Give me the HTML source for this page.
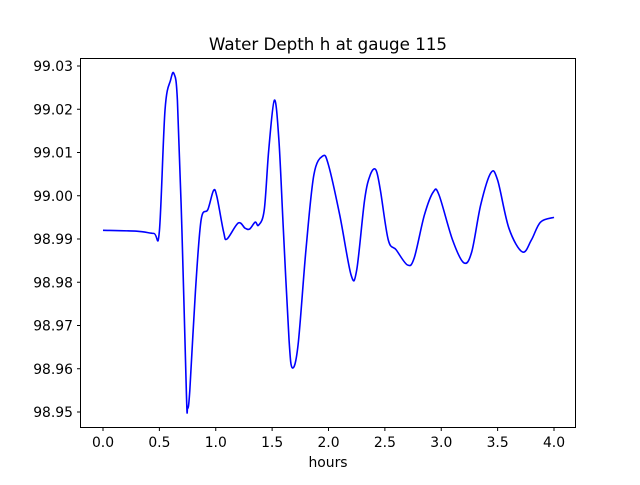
<!DOCTYPE html>
<html><head><meta charset="utf-8"><style>
html,body{margin:0;padding:0;background:#fff;}
svg text{font-family:"DejaVu Sans","Liberation Sans",sans-serif;fill:#000;}
</style></head><body>
<svg id="chart" width="640" height="480" xmlns="http://www.w3.org/2000/svg">
<rect x="0" y="0" width="640" height="480" fill="#fff"/>
<text x="328" y="50" font-size="16.7" text-anchor="middle">Water Depth h at gauge 115</text>
<g id="xticks"></g>
<g id="yticks"></g>
<path id="series" fill="none" stroke="#0000ff" stroke-width="1.6"/>
<rect x="80.5" y="58.5" width="495" height="369" fill="none" stroke="#000" stroke-width="1"/>
<text x="328" y="467" font-size="13.9" text-anchor="middle">hours</text>
</svg>
<script>
const hours=[0,0.3,0.45,0.5,0.55,0.6,0.63,0.66,0.7,0.74,0.75,0.77,0.82,0.87,0.93,0.98,1.01,1.07,1.1,1.2,1.26,1.3,1.35,1.38,1.43,1.47,1.52,1.56,1.6,1.65,1.68,1.73,1.8,1.87,1.95,2.0,2.1,2.2,2.25,2.32,2.37,2.42,2.46,2.53,2.6,2.7,2.76,2.85,2.93,2.98,3.1,3.2,3.27,3.35,3.44,3.5,3.6,3.72,3.8,3.88,4.0];
const depth=[98.992,98.9918,98.9913,98.9918,99.0198,99.0268,99.0282,99.022,98.992,98.954,98.9508,98.955,98.978,98.9944,98.9968,99.0012,98.9998,98.9916,98.990,98.9937,98.9925,98.9923,98.9939,98.9932,98.9967,99.0106,99.0221,99.0129,98.992,98.9667,98.9602,98.9655,98.9875,99.0048,99.0092,99.0071,98.9955,98.9817,98.9828,98.999,99.0048,99.006,99.0013,98.9898,98.9875,98.984,98.9856,98.9955,99.0009,99.0002,98.9898,98.9845,98.987,98.9979,99.0053,99.0036,98.9925,98.987,98.9898,98.9939,98.995];
const xTickLabels=["0.0","0.5","1.0","1.5","2.0","2.5","3.0","3.5","4.0"];
const yTickLabels=["98.95","98.96","98.97","98.98","98.99","99.00","99.01","99.02","99.03"];
const X=v=>103+v*112.75;
const Y=v=>412-(v-98.95)*4325;
const NS="http://www.w3.org/2000/svg";
const xg=document.getElementById('xticks'), yg=document.getElementById('yticks');
xTickLabels.forEach(l=>{const x=X(parseFloat(l));
 const t=document.createElementNS(NS,'line');t.setAttribute('x1',x);t.setAttribute('x2',x);t.setAttribute('y1',427.5);t.setAttribute('y2',431);t.setAttribute('stroke','#000');
 
 
 xg.appendChild(t);
 const tx=document.createElementNS(NS,'text');tx.setAttribute('x',x);tx.setAttribute('y',447);tx.setAttribute('font-size','13.9');tx.setAttribute('text-anchor','middle');tx.textContent=l;
 
 
 xg.appendChild(tx);});
yTickLabels.forEach(l=>{const y=Y(parseFloat(l));
 const t=document.createElementNS(NS,'line');t.setAttribute('x1',77);t.setAttribute('x2',80.5);t.setAttribute('y1',y);t.setAttribute('y2',y);t.setAttribute('stroke','#000');
 
 
 yg.appendChild(t);
 const tx=document.createElementNS(NS,'text');tx.setAttribute('x',73);tx.setAttribute('y',y+5);tx.setAttribute('font-size','13.9');tx.setAttribute('text-anchor','end');tx.textContent=l;
 
 
 yg.appendChild(tx);});
const pts=hours.map((h,i)=>[X(h),Y(depth[i])]);
let d=`M${pts[0][0]},${pts[0][1]}`;
for(let i=0;i<pts.length-1;i++){const p0=pts[Math.max(0,i-1)],p1=pts[i],p2=pts[i+1],p3=pts[Math.min(pts.length-1,i+2)];
 const c1=[p1[0]+(p2[0]-p0[0])/6,p1[1]+(p2[1]-p0[1])/6],c2=[p2[0]-(p3[0]-p1[0])/6,p2[1]-(p3[1]-p1[1])/6];
 d+=` C${c1[0]},${c1[1]} ${c2[0]},${c2[1]} ${p2[0]},${p2[1]}`;}
document.getElementById('series').setAttribute('d',d);
</script>
</body></html>
